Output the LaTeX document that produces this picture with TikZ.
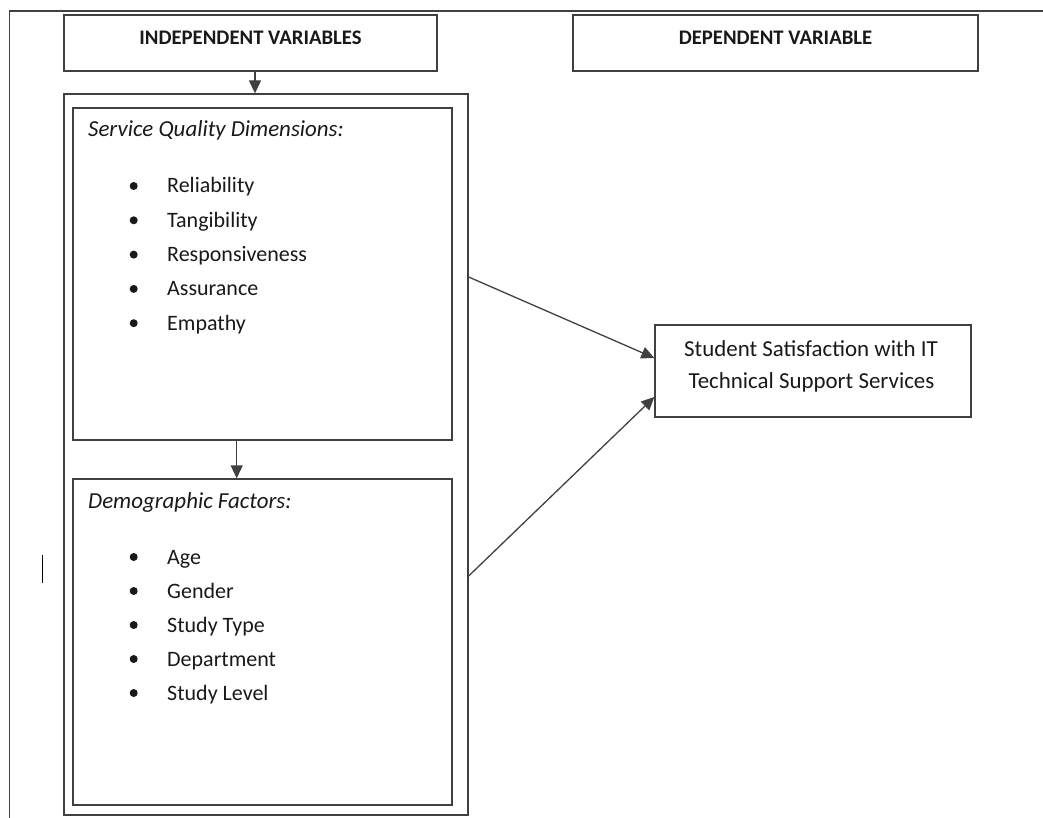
\documentclass[tikz,border=0pt]{standalone}
\usepackage{fontspec}
\setmainfont{Carlito}
\usetikzlibrary{arrows.meta}
\begin{document}
\begin{tikzpicture}[x=1pt,y=-1pt,
  line/.style={draw=black!75,line width=1.3pt},
  box/.style={line,rectangle,inner sep=0pt},
  arr/.style={line,-{Triangle[length=13pt,width=12pt]}},
  head/.style={font=\fontsize{20.7}{24}\selectfont\bfseries,text=black!90,anchor=base,inner sep=0pt},
  txt/.style={font=\fontsize{22}{26}\selectfont,text=black!90,anchor=base west,inner sep=0pt},
  ttl/.style={txt,font=\fontsize{22.9}{26}\selectfont\itshape},
  sattxt/.style={font=\fontsize{22.9}{26}\selectfont,text=black!90,anchor=base,inner sep=0pt},
  dot/.style={circle,fill=black!90,minimum size=8pt,inner sep=0pt}]
\useasboundingbox (0,0) rectangle (1043,818);
% page frame
\draw[line] (9.5,818) -- (9.5,11) -- (1043,11);
% text cursor
\draw[line width=1.4pt,black] (42.3,555) -- (42.3,582.5);

% heading boxes
\node[box,minimum width=373pt,minimum height=56pt] (indep) at (250.5,43) {};
\node[head] (indeptxt) at (250.5,44.5) {INDEPENDENT VARIABLES};
\node[box,minimum width=405pt,minimum height=56pt] (dep) at (775.5,43) {};
\node[head] (deptxt) at (775.5,44.5) {DEPENDENT VARIABLE};

% container with the two groups of variables
\node[box,minimum width=404pt,minimum height=721pt] (cont) at (266,454.5) {};
\node[box,minimum width=379pt,minimum height=332pt] (serv) at (262.5,274) {};
\node[box,minimum width=379pt,minimum height=326pt] (demo) at (262.5,642) {};

\node[ttl] (servtxt) at (88,137) {Service Quality Dimensions:};
\foreach \t [count=\i] in {Reliability,Tangibility,Responsiveness,Assurance,Empathy}{
  \node[dot] (sb\i) at (133.7,{186+34.3*(\i-1)}) {};
  \node[txt] (s\i) at (167,{193+34.3*(\i-1)}) {\t};
}
\node[ttl] (demotxt) at (88,508) {Demographic Factors:};
\foreach \t [count=\i] in {Age,Gender,Study Type,Department,Study Level}{
  \node[dot] (db\i) at (133.7,{557+34*(\i-1)}) {};
  \node[txt] (d\i) at (167,{564+34*(\i-1)}) {\t};
}

% dependent variable
\node[box,minimum width=316pt,minimum height=92pt] (sat) at (813,371) {};
\node[sattxt] (sat1) at (811,356) {Student Satisfaction with IT};
\node[sattxt] (sat2) at (811.5,388) {Technical Support Services};

% connectors
\draw[arr] ([xshift=4.5pt]indep.south) -- ([xshift=4.5pt]indep.south |- cont.north);
\draw[arr] ([xshift=-25.8pt]serv.south) -- ([xshift=-25.8pt]serv.south |- demo.north);
\draw[arr] ([yshift=177.5pt]cont.east) -- ([yshift=13pt]sat.west);
\draw[arr] ([yshift=-121.5pt]cont.east) -- ([yshift=-26pt]sat.west);
\end{tikzpicture}
\end{document}
